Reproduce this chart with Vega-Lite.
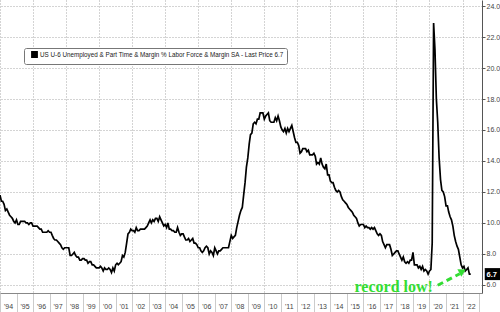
{
  "$schema": "https://vega.github.io/schema/vega-lite/v6.json",
  "width": 482,
  "height": 293,
  "autosize": {"type": "none"},
  "padding": {"left": 0, "top": 0, "right": 18, "bottom": 19},
  "background": "white",
  "config": {"view": {"stroke": null}, "axis": {"labelOverlap": false, "labelSeparation": 0}},
  "datasets": {
    "u6": [
      {"d":"1994-01","v":11.8},{"d":"1994-02","v":11.4},{"d":"1994-03","v":11.4},{"d":"1994-04","v":11.2},{"d":"1994-05","v":10.8},{"d":"1994-06","v":10.9},{"d":"1994-07","v":10.7},{"d":"1994-08","v":10.5},{"d":"1994-09","v":10.4},{"d":"1994-10","v":10.3},{"d":"1994-11","v":10.1},{"d":"1994-12","v":10.0},
      {"d":"1995-01","v":10.2},{"d":"1995-02","v":9.9},{"d":"1995-03","v":9.9},{"d":"1995-04","v":10.1},{"d":"1995-05","v":10.1},{"d":"1995-06","v":10.1},{"d":"1995-07","v":10.1},{"d":"1995-08","v":10.0},{"d":"1995-09","v":10.0},{"d":"1995-10","v":9.9},{"d":"1995-11","v":10.0},{"d":"1995-12","v":10.0},
      {"d":"1996-01","v":9.8},{"d":"1996-02","v":9.8},{"d":"1996-03","v":9.8},{"d":"1996-04","v":9.8},{"d":"1996-05","v":9.7},{"d":"1996-06","v":9.6},{"d":"1996-07","v":9.6},{"d":"1996-08","v":9.4},{"d":"1996-09","v":9.4},{"d":"1996-10","v":9.4},{"d":"1996-11","v":9.4},{"d":"1996-12","v":9.5},
      {"d":"1997-01","v":9.4},{"d":"1997-02","v":9.4},{"d":"1997-03","v":9.2},{"d":"1997-04","v":9.0},{"d":"1997-05","v":8.9},{"d":"1997-06","v":8.9},{"d":"1997-07","v":8.8},{"d":"1997-08","v":8.7},{"d":"1997-09","v":8.6},{"d":"1997-10","v":8.4},{"d":"1997-11","v":8.3},{"d":"1997-12","v":8.4},
      {"d":"1998-01","v":8.4},{"d":"1998-02","v":8.4},{"d":"1998-03","v":8.4},{"d":"1998-04","v":7.9},{"d":"1998-05","v":7.9},{"d":"1998-06","v":8.0},{"d":"1998-07","v":8.1},{"d":"1998-08","v":7.9},{"d":"1998-09","v":7.8},{"d":"1998-10","v":7.8},{"d":"1998-11","v":7.6},{"d":"1998-12","v":7.6},
      {"d":"1999-01","v":7.7},{"d":"1999-02","v":7.7},{"d":"1999-03","v":7.6},{"d":"1999-04","v":7.6},{"d":"1999-05","v":7.4},{"d":"1999-06","v":7.5},{"d":"1999-07","v":7.5},{"d":"1999-08","v":7.3},{"d":"1999-09","v":7.3},{"d":"1999-10","v":7.2},{"d":"1999-11","v":7.1},{"d":"1999-12","v":7.1},
      {"d":"2000-01","v":7.1},{"d":"2000-02","v":7.2},{"d":"2000-03","v":7.1},{"d":"2000-04","v":6.9},{"d":"2000-05","v":7.1},{"d":"2000-06","v":7.0},{"d":"2000-07","v":7.0},{"d":"2000-08","v":7.1},{"d":"2000-09","v":7.0},{"d":"2000-10","v":6.8},{"d":"2000-11","v":7.1},{"d":"2000-12","v":6.9},
      {"d":"2001-01","v":7.3},{"d":"2001-02","v":7.4},{"d":"2001-03","v":7.3},{"d":"2001-04","v":7.4},{"d":"2001-05","v":7.5},{"d":"2001-06","v":7.9},{"d":"2001-07","v":7.8},{"d":"2001-08","v":8.1},{"d":"2001-09","v":8.7},{"d":"2001-10","v":9.3},{"d":"2001-11","v":9.4},{"d":"2001-12","v":9.6},
      {"d":"2002-01","v":9.5},{"d":"2002-02","v":9.5},{"d":"2002-03","v":9.4},{"d":"2002-04","v":9.7},{"d":"2002-05","v":9.5},{"d":"2002-06","v":9.5},{"d":"2002-07","v":9.6},{"d":"2002-08","v":9.6},{"d":"2002-09","v":9.6},{"d":"2002-10","v":9.6},{"d":"2002-11","v":9.7},{"d":"2002-12","v":9.8},
      {"d":"2003-01","v":10.0},{"d":"2003-02","v":10.2},{"d":"2003-03","v":10.0},{"d":"2003-04","v":10.2},{"d":"2003-05","v":10.1},{"d":"2003-06","v":10.3},{"d":"2003-07","v":10.3},{"d":"2003-08","v":10.1},{"d":"2003-09","v":10.4},{"d":"2003-10","v":10.2},{"d":"2003-11","v":10.0},{"d":"2003-12","v":9.8},
      {"d":"2004-01","v":9.9},{"d":"2004-02","v":9.7},{"d":"2004-03","v":10.0},{"d":"2004-04","v":9.6},{"d":"2004-05","v":9.6},{"d":"2004-06","v":9.5},{"d":"2004-07","v":9.5},{"d":"2004-08","v":9.4},{"d":"2004-09","v":9.4},{"d":"2004-10","v":9.7},{"d":"2004-11","v":9.4},{"d":"2004-12","v":9.2},
      {"d":"2005-01","v":9.3},{"d":"2005-02","v":9.3},{"d":"2005-03","v":9.1},{"d":"2005-04","v":8.9},{"d":"2005-05","v":8.9},{"d":"2005-06","v":9.0},{"d":"2005-07","v":8.8},{"d":"2005-08","v":8.9},{"d":"2005-09","v":9.0},{"d":"2005-10","v":8.7},{"d":"2005-11","v":8.7},{"d":"2005-12","v":8.6},
      {"d":"2006-01","v":8.4},{"d":"2006-02","v":8.4},{"d":"2006-03","v":8.2},{"d":"2006-04","v":8.1},{"d":"2006-05","v":8.2},{"d":"2006-06","v":8.4},{"d":"2006-07","v":8.5},{"d":"2006-08","v":8.4},{"d":"2006-09","v":8.0},{"d":"2006-10","v":8.2},{"d":"2006-11","v":8.1},{"d":"2006-12","v":7.9},
      {"d":"2007-01","v":8.4},{"d":"2007-02","v":8.2},{"d":"2007-03","v":8.0},{"d":"2007-04","v":8.2},{"d":"2007-05","v":8.2},{"d":"2007-06","v":8.3},{"d":"2007-07","v":8.4},{"d":"2007-08","v":8.4},{"d":"2007-09","v":8.4},{"d":"2007-10","v":8.4},{"d":"2007-11","v":8.4},{"d":"2007-12","v":8.8},
      {"d":"2008-01","v":9.2},{"d":"2008-02","v":9.0},{"d":"2008-03","v":9.1},{"d":"2008-04","v":9.2},{"d":"2008-05","v":9.7},{"d":"2008-06","v":10.1},{"d":"2008-07","v":10.5},{"d":"2008-08","v":10.8},{"d":"2008-09","v":11.0},{"d":"2008-10","v":11.8},{"d":"2008-11","v":12.6},{"d":"2008-12","v":13.6},
      {"d":"2009-01","v":14.2},{"d":"2009-02","v":15.1},{"d":"2009-03","v":15.7},{"d":"2009-04","v":15.8},{"d":"2009-05","v":16.4},{"d":"2009-06","v":16.5},{"d":"2009-07","v":16.4},{"d":"2009-08","v":16.7},{"d":"2009-09","v":16.7},{"d":"2009-10","v":17.1},{"d":"2009-11","v":17.1},{"d":"2009-12","v":17.1},
      {"d":"2010-01","v":16.7},{"d":"2010-02","v":16.9},{"d":"2010-03","v":17.0},{"d":"2010-04","v":17.1},{"d":"2010-05","v":16.6},{"d":"2010-06","v":16.5},{"d":"2010-07","v":16.5},{"d":"2010-08","v":16.5},{"d":"2010-09","v":16.8},{"d":"2010-10","v":16.6},{"d":"2010-11","v":16.9},{"d":"2010-12","v":16.6},
      {"d":"2011-01","v":16.2},{"d":"2011-02","v":16.0},{"d":"2011-03","v":15.9},{"d":"2011-04","v":16.1},{"d":"2011-05","v":15.8},{"d":"2011-06","v":16.1},{"d":"2011-07","v":15.9},{"d":"2011-08","v":16.1},{"d":"2011-09","v":16.3},{"d":"2011-10","v":15.9},{"d":"2011-11","v":15.5},{"d":"2011-12","v":15.2},
      {"d":"2012-01","v":15.2},{"d":"2012-02","v":15.0},{"d":"2012-03","v":14.5},{"d":"2012-04","v":14.6},{"d":"2012-05","v":14.8},{"d":"2012-06","v":14.8},{"d":"2012-07","v":14.8},{"d":"2012-08","v":14.6},{"d":"2012-09","v":14.7},{"d":"2012-10","v":14.4},{"d":"2012-11","v":14.4},{"d":"2012-12","v":14.4},
      {"d":"2013-01","v":14.5},{"d":"2013-02","v":14.3},{"d":"2013-03","v":13.8},{"d":"2013-04","v":13.9},{"d":"2013-05","v":13.8},{"d":"2013-06","v":14.2},{"d":"2013-07","v":13.8},{"d":"2013-08","v":13.6},{"d":"2013-09","v":13.5},{"d":"2013-10","v":13.8},{"d":"2013-11","v":13.1},{"d":"2013-12","v":13.1},
      {"d":"2014-01","v":12.7},{"d":"2014-02","v":12.6},{"d":"2014-03","v":12.6},{"d":"2014-04","v":12.3},{"d":"2014-05","v":12.1},{"d":"2014-06","v":12.0},{"d":"2014-07","v":12.1},{"d":"2014-08","v":12.0},{"d":"2014-09","v":11.7},{"d":"2014-10","v":11.5},{"d":"2014-11","v":11.4},{"d":"2014-12","v":11.3},
      {"d":"2015-01","v":11.2},{"d":"2015-02","v":11.0},{"d":"2015-03","v":10.9},{"d":"2015-04","v":10.8},{"d":"2015-05","v":10.7},{"d":"2015-06","v":10.5},{"d":"2015-07","v":10.4},{"d":"2015-08","v":10.3},{"d":"2015-09","v":10.0},{"d":"2015-10","v":9.8},{"d":"2015-11","v":9.9},{"d":"2015-12","v":9.9},
      {"d":"2016-01","v":9.9},{"d":"2016-02","v":9.7},{"d":"2016-03","v":9.8},{"d":"2016-04","v":9.7},{"d":"2016-05","v":9.7},{"d":"2016-06","v":9.6},{"d":"2016-07","v":9.7},{"d":"2016-08","v":9.6},{"d":"2016-09","v":9.7},{"d":"2016-10","v":9.5},{"d":"2016-11","v":9.3},{"d":"2016-12","v":9.2},
      {"d":"2017-01","v":9.3},{"d":"2017-02","v":9.2},{"d":"2017-03","v":8.8},{"d":"2017-04","v":8.6},{"d":"2017-05","v":8.4},{"d":"2017-06","v":8.6},{"d":"2017-07","v":8.6},{"d":"2017-08","v":8.6},{"d":"2017-09","v":8.3},{"d":"2017-10","v":7.9},{"d":"2017-11","v":8.0},{"d":"2017-12","v":8.1},
      {"d":"2018-01","v":8.2},{"d":"2018-02","v":8.2},{"d":"2018-03","v":8.0},{"d":"2018-04","v":7.8},{"d":"2018-05","v":7.6},{"d":"2018-06","v":7.8},{"d":"2018-07","v":7.5},{"d":"2018-08","v":7.4},{"d":"2018-09","v":7.5},{"d":"2018-10","v":7.4},{"d":"2018-11","v":7.6},{"d":"2018-12","v":7.6},
      {"d":"2019-01","v":8.1},{"d":"2019-02","v":7.3},{"d":"2019-03","v":7.3},{"d":"2019-04","v":7.3},{"d":"2019-05","v":7.1},{"d":"2019-06","v":7.2},{"d":"2019-07","v":7.0},{"d":"2019-08","v":7.2},{"d":"2019-09","v":6.9},{"d":"2019-10","v":7.0},{"d":"2019-11","v":6.9},{"d":"2019-12","v":6.7},
      {"d":"2020-01","v":6.9},{"d":"2020-02","v":7.0},{"d":"2020-03","v":8.7},{"d":"2020-04","v":22.9},{"d":"2020-05","v":21.2},{"d":"2020-06","v":18.0},{"d":"2020-07","v":16.5},{"d":"2020-08","v":14.2},{"d":"2020-09","v":12.8},{"d":"2020-10","v":12.1},{"d":"2020-11","v":12.0},{"d":"2020-12","v":11.7},
      {"d":"2021-01","v":11.1},{"d":"2021-02","v":11.1},{"d":"2021-03","v":10.7},{"d":"2021-04","v":10.4},{"d":"2021-05","v":10.2},{"d":"2021-06","v":9.8},{"d":"2021-07","v":9.2},{"d":"2021-08","v":8.8},{"d":"2021-09","v":8.5},{"d":"2021-10","v":8.3},{"d":"2021-11","v":7.8},{"d":"2021-12","v":7.3},
      {"d":"2022-01","v":7.1},{"d":"2022-02","v":7.2},{"d":"2022-03","v":6.9},{"d":"2022-04","v":7.0},{"d":"2022-05","v":7.1},{"d":"2022-06","v":6.7},{"d":"2022-07","v":6.7}
    ],
    "last": [{"d": "2022-07", "v": 6.7}],
    "note": [{"d": "2017-11", "v": 5.55, "label": "record low!"}],
    "arrow": [{"d": "2020-07", "v": 5.98}, {"d": "2021-11", "v": 6.72}],
    "head": [{"d": "2022-01", "v": 6.88}]
  },
  "layer": [
    {
      "data": {"name": "u6"},
      "mark": {"type": "line", "stroke": "#000000", "strokeWidth": 1.7, "clip": true},
      "encoding": {
        "x": {
          "field": "d", "type": "temporal",
          "scale": {"type": "utc", "domain": [{"year": 1994, "month": 1, "date": 1, "utc": true}, {"year": 2023, "month": 3, "date": 7, "utc": true}]},
          "axis": {
            "title": null,
            "tickCount": {"interval": "year", "step": 1},
            "labelExpr": "utcyear(datum.value) > 2022 ? '' : \"'\" + utcFormat(datum.value, '%y')",
            "labelOffset": 8,
            "labelAlign": "center",
            "labelBaseline": "top",
            "labelPadding": -10,
            "labelOverlap": false,
            "labelFlush": false,
            "labelBound": false,
            "labelFont": "Liberation Sans",
            "labelFontSize": 7,
            "labelColor": "#444444",
            "tickSize": 19,
            "tickColor": "#cccccc",
            "tickWidth": 1,
            "domainColor": "#888888",
            "grid": true,
            "gridColor": "#a8a8a8",
            "gridDash": [1, 2],
            "gridOpacity": {"condition": {"test": "utcyear(datum.value) % 2 == 0", "value": 1}, "value": 0}
          }
        },
        "y": {
          "field": "v", "type": "quantitative",
          "scale": {"domain": [5.48, 24.39], "nice": false, "zero": false},
          "axis": {
            "title": null,
            "orient": "right",
            "values": [6, 8, 10, 12, 14, 16, 18, 20, 22, 24],
            "tickCount": 10,
            "format": ".1f",
            "labelOverlap": false,
            "labelFlush": false,
            "labelFont": "Liberation Sans",
            "labelFontSize": 7,
            "labelColor": "#444444",
            "labelPadding": 1,
            "tickSize": 3,
            "tickColor": "#555555",
            "domainColor": "#555555",
            "grid": true,
            "gridColor": "#a8a8a8",
            "gridDash": [1, 2]
          }
        },
        "color": {
          "datum": "US U-6 Unemployed & Part Time & Margin % Labor Force & Margin SA - Last Price 6.7",
          "type": "nominal",
          "scale": {"range": ["#000000"]},
          "legend": {
            "title": null,
            "orient": "none",
            "legendX": 24,
            "legendY": 48,
            "symbolType": "square",
            "symbolSize": 28,
            "symbolFillColor": "#000000",
            "symbolStrokeColor": "#000000",
            "symbolOffset": 4,
            "labelFont": "Liberation Sans",
            "labelFontSize": 6.3,
            "labelColor": "#222222",
            "labelLimit": 400,
            "labelOffset": 2,
            "padding": 3,
            "strokeColor": "#777777",
            "fillColor": "#ffffff",
            "cornerRadius": 2
          }
        }
      }
    },
    {
      "data": {"name": "last"},
      "mark": {"type": "point", "shape": "M1.75,-0.75H3.75V0.75H1.75Z", "size": 256, "filled": true, "fill": "#000000", "strokeWidth": 0, "opacity": 1, "clip": false},
      "encoding": {
        "x": {"field": "d", "type": "temporal"},
        "y": {"field": "v", "type": "quantitative"}
      }
    },
    {
      "data": {"name": "last"},
      "mark": {"type": "text", "dx": 21, "dy": 0.5, "align": "center", "baseline": "middle", "font": "Liberation Sans", "fontSize": 7.5, "fontWeight": "bold", "fill": "#ffffff", "clip": false},
      "encoding": {
        "x": {"field": "d", "type": "temporal"},
        "y": {"field": "v", "type": "quantitative"},
        "text": {"field": "v", "type": "quantitative", "format": ".1f"}
      }
    },
    {
      "data": {"name": "note"},
      "mark": {"type": "text", "align": "center", "baseline": "alphabetic", "font": "Liberation Serif", "fontSize": 16, "fontWeight": "bold", "fill": "#33dd33", "clip": false},
      "encoding": {
        "x": {"field": "d", "type": "temporal"},
        "y": {"field": "v", "type": "quantitative"},
        "text": {"field": "label"}
      }
    },
    {
      "data": {"name": "arrow"},
      "mark": {"type": "line", "stroke": "#33dd33", "strokeWidth": 3, "strokeDash": [6, 4], "clip": false},
      "encoding": {
        "x": {"field": "d", "type": "temporal"},
        "y": {"field": "v", "type": "quantitative"}
      }
    },
    {
      "data": {"name": "head"},
      "mark": {"type": "point", "shape": "triangle-right", "size": 70, "filled": true, "fill": "#33dd33", "opacity": 1, "strokeWidth": 0, "angle": -28, "clip": false},
      "encoding": {
        "x": {"field": "d", "type": "temporal"},
        "y": {"field": "v", "type": "quantitative"}
      }
    }
  ]
}
